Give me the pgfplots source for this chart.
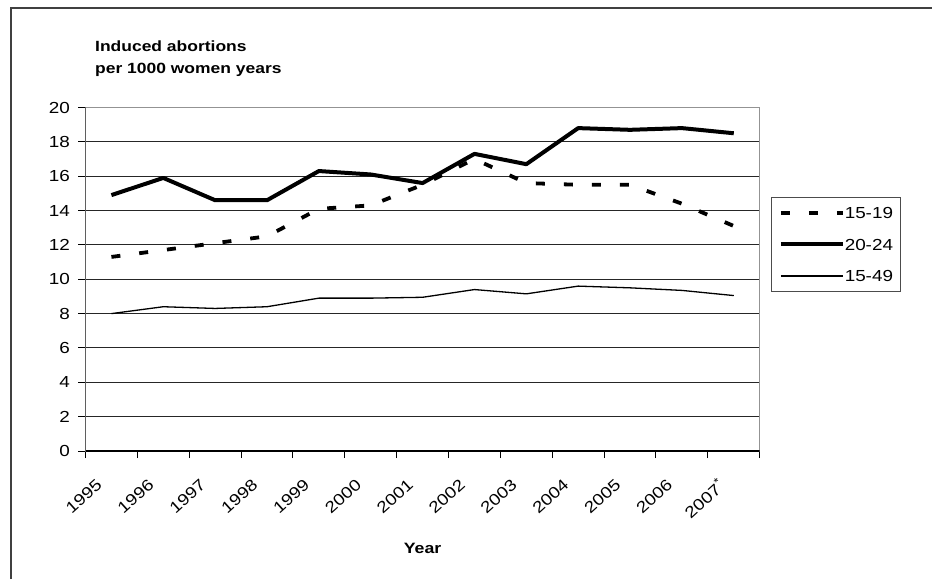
\documentclass[border=0pt]{standalone}
\usepackage{fontspec}
\setmainfont{Liberation Sans}[FakeStretch=1.18]
\usepackage{pgfplots}
\pgfplotsset{compat=1.18}

% per 1000 women years, categories at 0..12 (1995..2007*)
\pgfplotstableread{
x  a1519 a2024 a1549
0  11.3  14.9  8.0
1  11.7  15.9  8.4
2  12.1  14.6  8.3
3  12.5  14.6  8.4
4  14.1  16.3  8.9
5  14.3  16.1  8.9
6  15.5  15.6  8.95
7  17.0  17.3  9.4
8  15.6  16.7  9.15
9  15.5  18.8  9.6
10 15.5  18.7  9.5
11 14.4  18.8  9.35
12 13.1  18.5  9.05
}\abortions

\begin{document}
\begin{tikzpicture}
\path[use as bounding box] (0pt,0pt) rectangle (932pt,579pt);
\draw[line width=1.3pt, black!75] (11pt,0pt) -- (11pt,571pt) -- (932pt,571pt);

\node[anchor=base west, inner sep=0pt, font=\bfseries\fontsize{14.8}{17}\selectfont] at (95pt,527.3pt) {Induced abortions};
\node[anchor=base west, inner sep=0pt, font=\bfseries\fontsize{14.8}{17}\selectfont] at (95pt,505.7pt) {per 1000 women years};

\begin{axis}[
  at={(85.5pt,128pt)}, anchor=south west,
  width=674.2pt, height=343.5pt, scale only axis,
  xmin=-0.5, xmax=12.5, ymin=0, ymax=20,
  ytick={0,2,...,20},
  xtick={-0.5,0.5,...,12.5}, xticklabels={},
  % labels sit a little left of each category centre, as in the reference
  extra x ticks={-0.23,0.77,1.77,2.77,3.77,4.77,5.77,6.77,7.77,8.77,9.77,10.77,11.77},
  extra x tick labels={1995,1996,1997,1998,1999,2000,2001,2002,2003,2004,2005,2006,2007\textsuperscript{*}},
  extra x tick style={major tick length=0pt},
  xticklabel shift=31.5pt,
  tick align=outside, major tick length=7pt, tick pos=left,
  ymajorgrids, grid style={black!85, line width=1pt},
  axis line style={gray!85, line width=1.2pt},
  tick style={black, line width=1pt},
  /pgf/number format/assume math mode=true,
  tick label style={font=\fontsize{16}{19}\selectfont},
  yticklabel style={anchor=east, inner sep=0pt, xshift=-8.5pt},
  xticklabel style={anchor=east, inner sep=0pt, rotate=42},
  xlabel={Year},
  xlabel style={at={(axis description cs:0.5,-0.297)}, anchor=base, font=\bfseries\fontsize{15}{18}\selectfont},
  legend cell align=left,
  legend image code/.code={\draw[#1] (0pt,0pt) -- (62pt,0pt);},
  legend style={at={(axis description cs:1.2089,0.7403)}, anchor=north east,
    draw=gray!60!black, line width=1pt, inner xsep=7pt, inner ysep=10pt,
    row sep=20pt, font=\fontsize{16}{19}\selectfont,
    nodes={inner sep=0pt, text height=11.5pt, text depth=0pt}},
]
\addplot[black, line width=3.8pt, dash pattern=on 9pt off 19pt] table[x=x, y=a1519] {\abortions};
\addlegendentry{15-19}
\addplot[black, line width=4pt, line join=round] table[x=x, y=a2024] {\abortions};
\addlegendentry{20-24}
\addplot[black, line width=1.3pt, line join=round] table[x=x, y=a1549] {\abortions};
\addlegendentry{15-49}
\draw[black, line width=1.2pt] (rel axis cs:0,1) -- (rel axis cs:0,0) -- (rel axis cs:1,0);
\end{axis}
\end{tikzpicture}
\end{document}
